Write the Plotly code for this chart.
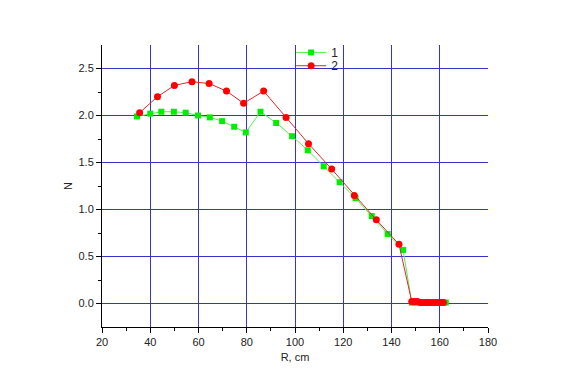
import plotly.graph_objects as go

# Series 1 (green squares)
r1 = [34.5, 40.0, 44.6, 49.8, 54.7, 59.8, 64.7, 69.8, 74.8, 79.6, 85.7, 92.2, 98.8,
      105.3, 111.9, 118.5, 125.1, 131.8, 138.4, 144.8,
      148.4, 149.7, 151.0, 152.3, 153.6, 154.9, 156.2, 157.5, 158.8, 160.1, 161.4, 162.5]
n1 = [1.99, 2.02, 2.04, 2.04, 2.03, 2.00, 1.98, 1.94, 1.88, 1.82, 2.04, 1.92, 1.78,
      1.63, 1.46, 1.29, 1.12, 0.93, 0.74, 0.57,
      0.01, 0.01, 0.01, 0.01, 0.01, 0.01, 0.01, 0.01, 0.01, 0.01, 0.01, 0.01]

# Series 2 (red circles)
r2 = [35.6, 43.0, 50.0, 57.3, 64.4, 71.6, 78.7, 87.0, 96.3, 105.6, 115.2, 124.6,
      133.7, 143.1,
      148.4, 149.6, 150.8, 152.0, 153.2, 154.4, 155.6, 156.8, 158.0, 159.2, 160.4, 161.5]
n2 = [2.03, 2.20, 2.32, 2.36, 2.34, 2.26, 2.13, 2.26, 1.98, 1.70, 1.43, 1.15,
      0.89, 0.63,
      0.02, 0.02, 0.02, 0.01, 0.01, 0.01, 0.01, 0.01, 0.01, 0.01, 0.01, 0.01]

x_ticks = [20, 40, 60, 80, 100, 120, 140, 160, 180]
y_ticks = [0.0, 0.5, 1.0, 1.5, 2.0, 2.5]
y_labels = ["0.0", "0.5", "1.0", "1.5", "2.0", "2.5"]

grid = "#3434cc"
font = dict(family="Liberation Sans, Arial, sans-serif", size=11, color="#222222")

fig = go.Figure()
fig.add_trace(go.Scatter(x=r1, y=n1, name="1", mode="lines+markers",
                         line=dict(color="#55ee55", width=1),
                         marker=dict(symbol="square", size=6, color="#00ee00"),
                         legend="legend"))
fig.add_trace(go.Scatter(x=r2, y=n2, name="2", mode="lines+markers",
                         line=dict(color="#e02828", width=1),
                         marker=dict(symbol="circle", size=7, color="#ff0000"),
                         legend="legend2"))

leg_common = dict(xanchor="left", yanchor="top", bgcolor="rgba(0,0,0,0)",
                  font=dict(size=12, color="#222222"), itemwidth=30)
fig.update_layout(
    width=567, height=392,
    margin=dict(l=94, r=87, t=37, b=73),
    paper_bgcolor="white", plot_bgcolor="white",
    font=font,
    legend=dict(x=0.49, y=1.025, **leg_common),
    legend2=dict(x=0.49, y=0.978, **leg_common),
    showlegend=True,
)
fig.update_xaxes(
    range=[20, 180], tickvals=x_ticks, ticktext=[str(v) for v in x_ticks],
    showgrid=True, gridcolor=grid, gridwidth=1, zeroline=False,
    showline=True, linecolor="black", linewidth=1,
    ticks="outside", ticklen=5, tickcolor="black",
    minor=dict(tickvals=[30, 50, 70, 90, 110, 130, 150, 170], ticks="outside",
               ticklen=3, tickcolor="black", showgrid=False),
    title=dict(text="R, cm", font=dict(size=11), standoff=6),
)
fig.update_yaxes(
    range=[-0.25, 2.75], tickvals=y_ticks, ticktext=y_labels,
    showgrid=True, gridcolor=grid, gridwidth=1, zeroline=False,
    showline=True, linecolor="black", linewidth=1,
    ticks="outside", ticklen=5, tickcolor="black",
    minor=dict(tickvals=[0.25, 0.75, 1.25, 1.75, 2.25], ticks="outside",
               ticklen=3, tickcolor="black", showgrid=False),
    title=dict(text="N", font=dict(size=11), standoff=3),
)

fig.write_html("out.html")
